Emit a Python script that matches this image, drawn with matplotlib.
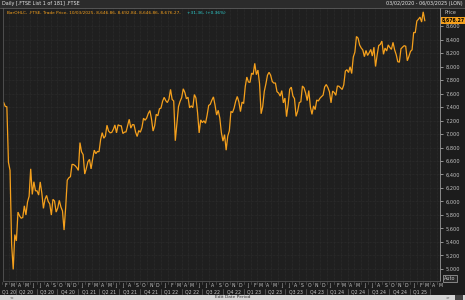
import numpy as np
import pandas as pd
import matplotlib
matplotlib.use("Agg")
import matplotlib.pyplot as plt
import matplotlib.dates as mdates
from matplotlib.ticker import FuncFormatter

# Weekly FTSE 100 levels (Friday)
ftse_2020 = [7466, 7409, 7404, 6581,
             6462, 5366, 4994, 5510,
             5416, 5843, 5787, 5752,
             5763, 5936, 5800, 5993, 6077,
             6484, 6105, 6293, 6159,
             6157, 6095, 6290, 6124, 5898,
             6032, 6090, 6002, 5964,
             5799, 6032, 6007, 5843,
             5902, 6017, 5920, 5860, 5577,
             5910, 6316, 6351, 6368,
             6550, 6547, 6529, 6502]
ftse_2021 = [6461, 6873, 6736, 6695, 6407,
             6489, 6589, 6624, 6483,
             6631, 6761, 6709, 6741,
             6737, 6916, 7020, 6938, 6970,
             7130, 7044, 7018, 7023,
             7069, 7134, 7017, 7136,
             7123, 7122, 7008, 7027, 7032,
             7123, 7218, 7087, 7138,
             7138, 7029, 6963, 7051,
             7027, 7095, 7234, 7204, 7237,
             7304, 7348, 7224, 7044,
             7122, 7292, 7270, 7373, 7385]
ftse_2022 = [7485, 7543, 7494, 7466,
             7516, 7661, 7513, 7489,
             6900, 7156, 7405, 7483,
             7538, 7670, 7616, 7522, 7545,
             7388, 7418, 7390, 7585,
             7533, 7318, 7016, 7209,
             7169, 7196, 7159, 7276, 7423,
             7440, 7501, 7550, 7427,
             7281, 7351, 7237, 7019, 6894,
             6991, 6760, 6969, 7047,
             7335, 7318, 7385, 7486,
             7556, 7476, 7332, 7473, 7452]
ftse_2023 = [7699, 7844, 7771, 7765,
             7902, 7882, 8047, 7879,
             7947, 7748, 7300, 7405, 7632,
             7742, 7871, 7914, 7871,
             7778, 7755, 7756, 7627,
             7607, 7562, 7643, 7461, 7532,
             7257, 7434, 7663, 7694,
             7564, 7524, 7262, 7338,
             7465, 7478, 7711, 7684, 7608,
             7495, 7644, 7402, 7291,
             7417, 7361, 7504, 7489,
             7529, 7554, 7576, 7698, 7733]
ftse_2024 = [7689, 7625, 7462, 7636,
             7615, 7573, 7712, 7707,
             7683, 7660, 7727, 7931, 7953,
             7911, 7996, 7896, 8140,
             8213, 8445, 8420, 8318, 8275,
             8245, 8146, 8238, 8164,
             8204, 8253, 8155, 8286,
             8000, 8168, 8311, 8327, 8377,
             8181, 8273, 8230, 8320,
             8281, 8254, 8358, 8248,
             8177, 8072, 8064, 8262, 8287,
             8308, 8300, 8085, 8150]
ftse_2025 = [8224, 8248, 8505, 8502, 8674,
             8700, 8732, 8659, 8810, 8680]

values = ftse_2020 + ftse_2021 + ftse_2022 + ftse_2023 + ftse_2024 + ftse_2025
dates = pd.date_range("2020-02-07", periods=len(values), freq="W-FRI")

price_ticks = list(range(5000, 8601, 200))
month_letters = ["J", "F", "M", "A", "M", "J", "J", "A", "S", "O", "N", "D"]
last_price = 8676.27

W, H = 465, 300
BG = "#1c1c1c"
TXT = "#c4c4c4"
ORANGE = "#f5a01c"


def fx(px):
    return px / W


def fy(py):
    return 1 - py / H


fig = plt.figure(figsize=(W / 100, H / 100), dpi=100, facecolor=BG)

# main plot area
ax = fig.add_axes([fx(3), fy(281), fx(437), (281 - 8) / H], facecolor="#1f1f1f")
x0 = pd.Timestamp("2020-02-04")
x1 = x0 + pd.Timedelta(days=1925)
ax.set_xlim(x0, x1)
ax.set_ylim(4822, 8867)

ax.plot(dates, values, color=ORANGE, lw=0.9, solid_joinstyle="miter")

ax.yaxis.tick_right()
ax.set_yticks(price_ticks)
ax.yaxis.set_major_formatter(FuncFormatter(lambda v, p: f"{int(v):,}"))
ax.tick_params(axis="y", colors=TXT, labelsize=3.6, length=2, width=0.5, pad=2)
ax.xaxis.set_major_locator(mdates.MonthLocator())
ax.tick_params(axis="x", bottom=False, labelbottom=False)
ax.grid(True, color="#303030", lw=0.5, ls=(0, (1, 1)))
ax.spines["top"].set_visible(False)
ax.spines["right"].set_color("#9a9a9a")
ax.spines["left"].set_color("#555555")
ax.spines["bottom"].set_color("#555555")
for s in ax.spines.values():
    s.set_linewidth(0.6)

# last price box
ax.annotate(f"{last_price:,.2f}", xy=(1.0, last_price), xycoords=("axes fraction", "data"),
            xytext=(1.5, 0), textcoords="offset points", fontsize=3.3, color="black",
            va="center", ha="left", fontweight="bold",
            bbox=dict(boxstyle="square,pad=0.2", fc=ORANGE, ec="none"))
fig.text(fx(444), fy(13), "Price", fontsize=3.5, color=TXT, va="center")
fig.text(fx(444), fy(278.5), "Auto", fontsize=3.5, color=TXT, va="center",
         bbox=dict(boxstyle="square,pad=0.3", fc="#2a2a2a", ec="#cfcfcf", lw=0.4))

# header bar
fig.patches.append(plt.Rectangle((0, fy(8)), 1, 8 / H, transform=fig.transFigure,
                                 fc="#2b2b2b", ec="none", zorder=0))
fig.add_artist(plt.Line2D([0, 1], [fy(8), fy(8)], transform=fig.transFigure,
                          color="#6a6a6a", lw=0.5))
fig.text(fx(2), fy(4), "Daily [.FTSE List 1 of 181] .FTSE", fontsize=3.5,
         color="#e6e6e6", va="center")
fig.text(fx(463), fy(4), "03/02/2020 - 06/03/2025 (LON)", fontsize=3.5,
         color="#e6e6e6", va="center", ha="right")
fig.text(fx(7), fy(13.5), "BarOHLC, .FTSE, Trade Price, 10/03/2025, 8,646.86, 8,692.84, "
         "8,646.86, 8,676.27,", fontsize=3.1, color=ORANGE, va="center")
fig.text(fx(187), fy(13.5), "+31.36, (+0.36%)", fontsize=3.1, color="#2fd4d4", va="center")


# month letters and quarter labels below the plot
def date_px(d):
    return 3 + (d - x0).days / 1925 * 437


for m in pd.date_range("2020-02-01", "2025-05-01", freq="MS"):
    mid = m + pd.Timedelta(days=15)
    fig.text(fx(date_px(mid)), fy(285.5), month_letters[m.month - 1], fontsize=3.3,
             color=TXT, ha="center", va="center")
    fig.add_artist(plt.Line2D([fx(date_px(m))] * 2, [fy(282), fy(284)],
                              transform=fig.transFigure, color="#666666", lw=0.4))
for q in pd.date_range("2020-01-01", "2025-01-01", freq="QS"):
    qa = max(date_px(q), 3)
    qb = min(date_px(q + pd.offsets.QuarterBegin(startingMonth=1)), 440)
    fig.text(fx((qa + qb) / 2), fy(291.5), f"Q{q.quarter} {q.year % 100:02d}",
             fontsize=3.3, color=TXT, ha="center", va="center")
    fig.add_artist(plt.Line2D([fx(qb)] * 2, [fy(288.5), fy(294)],
                              transform=fig.transFigure, color="#777777", lw=0.4))

# scrollbar strip
fig.patches.append(plt.Rectangle((0, 0), 1, 5.5 / H, transform=fig.transFigure,
                                 fc="#d6d6d6", ec="none", zorder=0))
fig.text(0.5, fy(297.3), "Edit Date Period", fontsize=3.2, color="#333333",
         ha="center", va="center")
fig.text(fx(11), fy(297.3), "<", fontsize=3.2, color="#333333", ha="center", va="center")
fig.text(fx(447), fy(297.3), ">", fontsize=3.2, color="#333333", ha="center", va="center")
fig.patches.append(plt.Rectangle((fx(455), fy(299.5)), fx(8), 4.5 / H,
                                 transform=fig.transFigure, fc="#444444", ec="none"))

fig.savefig("out.png", dpi=100, facecolor=BG)
